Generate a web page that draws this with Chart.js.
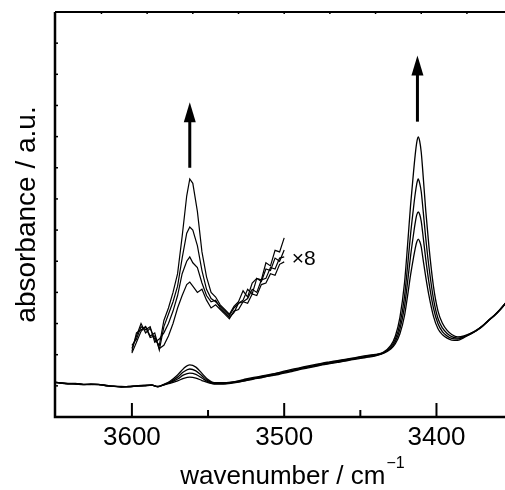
<!DOCTYPE html>
<html>
<head>
    <title>IR spectra</title>
    <script src="https://cdn.jsdelivr.net/npm/chart.js"></script>
    <style>
        body {
            margin: 0;
            background: #fff;
        }

        .chart {
            width: 505px;
            height: 490px;
        }
    </style>
</head>
<body>
<div class="chart">
    <canvas id="spectra"></canvas>
</div>

<script>
    // wavenumber / cm-1 (shared by the four full spectra)
    const wavenumbers = [3652, 3647, 3642, 3637, 3632, 3627, 3622, 3617, 3612, 3607, 3602, 3597, 3592, 3587, 3583, 3579,
        3575, 3570, 3566, 3562, 3558, 3554, 3550, 3546,
        3540, 3535, 3530, 3525, 3520, 3515, 3510, 3505, 3500, 3495, 3490, 3485, 3480, 3475, 3470, 3465, 3460, 3455, 3450, 3445, 3440,
        3435, 3430, 3427, 3424, 3421, 3419, 3417, 3415, 3414, 3413, 3412, 3411, 3410, 3409, 3407, 3405, 3402, 3399, 3396, 3393, 3390, 3386, 3382,
        3378, 3374, 3370, 3366, 3362, 3358, 3354];

    const spectrum1 = [1.12, 1.10, 1.07, 1.08, 1.04, 1.06, 1.05, 1.01, 0.99, 0.97, 0.98, 0.99, 1.01, 1.03, 0.97, 1.05,
        1.15, 1.35, 1.56, 1.67, 1.60, 1.40, 1.20, 1.10,
        1.10, 1.12, 1.16, 1.22, 1.27, 1.31, 1.36, 1.41, 1.47, 1.53, 1.58, 1.63, 1.68, 1.73, 1.77, 1.81, 1.85, 1.89, 1.94, 1.98, 2.01,
        2.08, 2.30, 2.60, 3.20, 4.30, 5.50, 6.80, 7.90, 8.40, 8.80, 8.99, 8.85, 8.50, 7.90, 6.60, 5.50, 4.20, 3.40, 3.00, 2.78, 2.65, 2.57, 2.60,
        2.68, 2.78, 2.92, 3.10, 3.27, 3.47, 3.70];

    const spectrum2 = [1.11, 1.09, 1.08, 1.06, 1.05, 1.05, 1.04, 1.02, 0.98, 0.98, 0.97, 1.00, 1.02, 1.02, 0.98, 1.04,
        1.12, 1.28, 1.45, 1.54, 1.48, 1.32, 1.16, 1.08,
        1.08, 1.11, 1.15, 1.20, 1.25, 1.30, 1.34, 1.40, 1.45, 1.50, 1.56, 1.61, 1.66, 1.71, 1.75, 1.79, 1.83, 1.88, 1.92, 1.96, 2.00,
        2.06, 2.25, 2.50, 2.98, 3.86, 4.83, 5.87, 6.75, 7.15, 7.47, 7.64, 7.50, 7.23, 6.75, 5.72, 4.84, 3.80, 3.16, 2.85, 2.68, 2.58, 2.53, 2.58,
        2.67, 2.77, 2.91, 3.09, 3.26, 3.46, 3.69];

    const spectrum3 = [1.13, 1.09, 1.06, 1.07, 1.05, 1.04, 1.05, 1.00, 0.99, 0.96, 0.98, 1.00, 1.00, 1.02, 0.98, 1.03,
        1.10, 1.22, 1.35, 1.41, 1.37, 1.25, 1.13, 1.07,
        1.07, 1.10, 1.13, 1.18, 1.23, 1.28, 1.32, 1.37, 1.43, 1.48, 1.54, 1.59, 1.64, 1.69, 1.73, 1.77, 1.81, 1.86, 1.90, 1.94, 1.98,
        2.05, 2.21, 2.42, 2.82, 3.54, 4.32, 5.17, 5.89, 6.22, 6.48, 6.58, 6.50, 6.28, 5.89, 5.05, 4.34, 3.50, 2.99, 2.73, 2.60, 2.52, 2.50, 2.57,
        2.66, 2.77, 2.91, 3.09, 3.26, 3.46, 3.69];

    const spectrum4 = [1.12, 1.10, 1.07, 1.06, 1.04, 1.05, 1.04, 1.01, 0.98, 0.97, 0.97, 0.99, 1.01, 1.02, 0.97, 1.03,
        1.08, 1.16, 1.24, 1.28, 1.25, 1.17, 1.10, 1.06,
        1.06, 1.08, 1.12, 1.17, 1.22, 1.26, 1.31, 1.35, 1.41, 1.46, 1.52, 1.57, 1.62, 1.67, 1.71, 1.75, 1.79, 1.84, 1.88, 1.92, 1.96,
        2.04, 2.18, 2.35, 2.67, 3.25, 3.88, 4.56, 5.14, 5.40, 5.61, 5.71, 5.63, 5.46, 5.13, 4.48, 3.91, 3.24, 2.83, 2.64, 2.53, 2.47, 2.46, 2.55,
        2.65, 2.76, 2.90, 3.08, 3.25, 3.45, 3.68];

    // x8 magnified part, 3600-3500 cm-1
    const insetWavenumbers = [3600, 3597, 3594, 3591, 3588, 3585, 3582, 3579, 3576, 3573, 3570, 3567, 3564, 3562, 3560,
        3557, 3554, 3551, 3548, 3545, 3542, 3539, 3536, 3533, 3530, 3527, 3524, 3521, 3518, 3515, 3512, 3509, 3506, 3503, 3500];

    const inset1 = [2.2, 2.6, 3.0, 2.7, 2.85, 2.5, 2.3, 3.1, 3.5, 4.0, 4.6, 5.8, 7.1, 7.64, 7.5,
        6.6, 5.3, 4.5, 4.0, 3.85, 3.6, 3.45, 3.3, 3.55, 3.7, 4.05, 3.85, 4.3, 4.45, 4.4, 4.95, 4.85, 5.35, 5.3, 5.75];
    const inset2 = [2.1, 2.7, 2.8, 2.9, 2.6, 2.7, 2.15, 2.9, 3.3, 3.7, 4.2, 5.1, 5.9, 6.1, 6.0,
        5.5, 4.7, 4.1, 3.8, 3.7, 3.55, 3.4, 3.25, 3.5, 3.65, 3.75, 4.1, 3.95, 4.45, 4.35, 4.75, 4.7, 5.1, 5.0, 5.36];
    const inset3 = [2.3, 2.5, 2.9, 2.8, 2.9, 2.4, 2.5, 2.7, 3.0, 3.4, 3.9, 4.6, 5.0, 5.14, 4.95,
        4.8, 4.3, 3.9, 3.7, 3.75, 3.5, 3.35, 3.2, 3.35, 3.65, 3.7, 3.8, 4.1, 4.0, 4.4, 4.45, 4.8, 4.75, 5.1, 5.14];
    const inset4 = [2.05, 2.4, 2.75, 2.9, 2.55, 2.6, 2.2, 2.3, 2.6, 3.0, 3.5, 3.9, 4.25, 4.33, 4.2,
        4.0, 4.1, 3.75, 3.5, 3.6, 3.45, 3.3, 3.15, 3.4, 3.45, 3.7, 3.65, 3.95, 3.9, 4.25, 4.3, 4.6, 4.55, 4.9, 4.98];

    const xTickLabels = [3600, 3500, 3400];
    const xMinorTicks = [3550, 3450];
    const topTicks = [3620, 3590, 3560, 3530, 3500, 3470, 3440, 3410, 3380];
    const yTicks = [1, 2, 3, 4, 5, 6, 7, 8, 9, 10, 11, 12];

    // arrows: wavenumber, start and end (absorbance units)
    const arrows = [
        {x: 3562, from: 8.0, to: 10.1},
        {x: 3412.5, from: 9.48, to: 11.6}
    ];
    const insetNote = {x: 3495, y: 4.88, text: '×8'};

    function toPoints(xs, ys) {
        return xs.map((x, i) => ({x: x, y: ys[i]}));
    }

    function spectrumSet(xs, ys, width, smooth) {
        return {
            data: toPoints(xs, ys),
            borderColor: '#000',
            borderWidth: width,
            pointRadius: 0,
            fill: false,
            tension: 0,
            cubicInterpolationMode: smooth ? 'monotone' : 'default'
        };
    }

    var framePlugin = {
        id: 'frame',
        afterDraw(chart) {
            const ctx = chart.ctx;
            const a = chart.chartArea;
            const x = chart.scales.x;
            const y = chart.scales.y;
            ctx.save();
            ctx.strokeStyle = '#000';
            ctx.fillStyle = '#000';

            // top border
            ctx.lineWidth = 2;
            ctx.beginPath();
            ctx.moveTo(a.left, a.top);
            ctx.lineTo(a.right, a.top);
            ctx.stroke();

            // left and bottom axis
            ctx.lineWidth = 2.5;
            ctx.beginPath();
            ctx.moveTo(a.left, a.top);
            ctx.lineTo(a.left, a.bottom);
            ctx.lineTo(a.right, a.bottom);
            ctx.stroke();

            // inward ticks
            ctx.lineWidth = 2;
            xTickLabels.forEach(v => {
                const px = x.getPixelForValue(v);
                ctx.beginPath();
                ctx.moveTo(px, a.bottom);
                ctx.lineTo(px, a.bottom - 14);
                ctx.stroke();
            });
            xMinorTicks.forEach(v => {
                const px = x.getPixelForValue(v);
                ctx.beginPath();
                ctx.moveTo(px, a.bottom);
                ctx.lineTo(px, a.bottom - 7);
                ctx.stroke();
            });
            ctx.lineWidth = 1.5;
            yTicks.forEach(v => {
                const py = y.getPixelForValue(v);
                ctx.beginPath();
                ctx.moveTo(a.left, py);
                ctx.lineTo(a.left + 3, py);
                ctx.stroke();
            });
            topTicks.forEach(v => {
                const px = x.getPixelForValue(v);
                ctx.beginPath();
                ctx.moveTo(px, a.top);
                ctx.lineTo(px, a.top + 2);
                ctx.stroke();
            });

            // tick labels
            ctx.font = '26px "Liberation Sans", Arial, sans-serif';
            ctx.textAlign = 'center';
            ctx.textBaseline = 'alphabetic';
            xTickLabels.forEach(v => {
                ctx.fillText(String(v), x.getPixelForValue(v), a.bottom + 28);
            });

            // x title with superscript
            const main = 'wavenumber / cm';
            const sup = '\u22121';
            ctx.font = '26px "Liberation Sans", Arial, sans-serif';
            const wMain = ctx.measureText(main).width;
            ctx.font = '16px "Liberation Sans", Arial, sans-serif';
            const wSup = ctx.measureText(sup).width;
            const startX = (a.left + a.right) / 2 + 12 - (wMain + wSup) / 2;
            ctx.textAlign = 'left';
            ctx.font = '26px "Liberation Sans", Arial, sans-serif';
            ctx.fillText(main, startX, a.bottom + 67);
            ctx.font = '16px "Liberation Sans", Arial, sans-serif';
            ctx.fillText(sup, startX + wMain + 1, a.bottom + 51);

            // y title
            ctx.save();
            ctx.translate(35, (a.top + a.bottom) / 2);
            ctx.rotate(-Math.PI / 2);
            ctx.textAlign = 'center';
            ctx.font = '28px "Liberation Sans", Arial, sans-serif';
            ctx.fillText('absorbance / a.u.', 0, 0);
            ctx.restore();

            // arrows
            arrows.forEach(ar => {
                const px = x.getPixelForValue(ar.x);
                const y0 = y.getPixelForValue(ar.from);
                const y1 = y.getPixelForValue(ar.to);
                ctx.lineWidth = 3;
                ctx.beginPath();
                ctx.moveTo(px, y0);
                ctx.lineTo(px, y1 + 16);
                ctx.stroke();
                ctx.beginPath();
                ctx.moveTo(px, y1);
                ctx.lineTo(px - 6, y1 + 20);
                ctx.lineTo(px + 6, y1 + 20);
                ctx.closePath();
                ctx.fill();
            });

            // x8 note
            ctx.textAlign = 'left';
            ctx.font = '21px "Liberation Sans", Arial, sans-serif';
            ctx.fillText(insetNote.text, x.getPixelForValue(insetNote.x), y.getPixelForValue(insetNote.y));

            ctx.restore();
        }
    };

    var ctx = document.getElementById('spectra').getContext('2d');
    var chart = new Chart(ctx, {
        type: 'line',
        data: {
            datasets: [
                spectrumSet(wavenumbers, spectrum1, 1.3, true),
                spectrumSet(wavenumbers, spectrum2, 1.3, true),
                spectrumSet(wavenumbers, spectrum3, 1.3, true),
                spectrumSet(wavenumbers, spectrum4, 1.3, true),
                spectrumSet(insetWavenumbers, inset1, 1.2, false),
                spectrumSet(insetWavenumbers, inset2, 1.2, false),
                spectrumSet(insetWavenumbers, inset3, 1.2, false),
                spectrumSet(insetWavenumbers, inset4, 1.2, false)
            ]
        },
        options: {
            responsive: true,
            maintainAspectRatio: false,
            animation: false,
            layout: {
                padding: {left: 55, top: 12, right: 0, bottom: 73}
            },
            plugins: {
                legend: {display: false},
                tooltip: {enabled: false}
            },
            scales: {
                x: {
                    type: 'linear',
                    reverse: true,
                    min: 3355,
                    max: 3650.5,
                    display: false
                },
                y: {
                    min: 0,
                    max: 13,
                    display: false
                }
            }
        },
        plugins: [framePlugin]
    });
</script>
</body>
</html>
